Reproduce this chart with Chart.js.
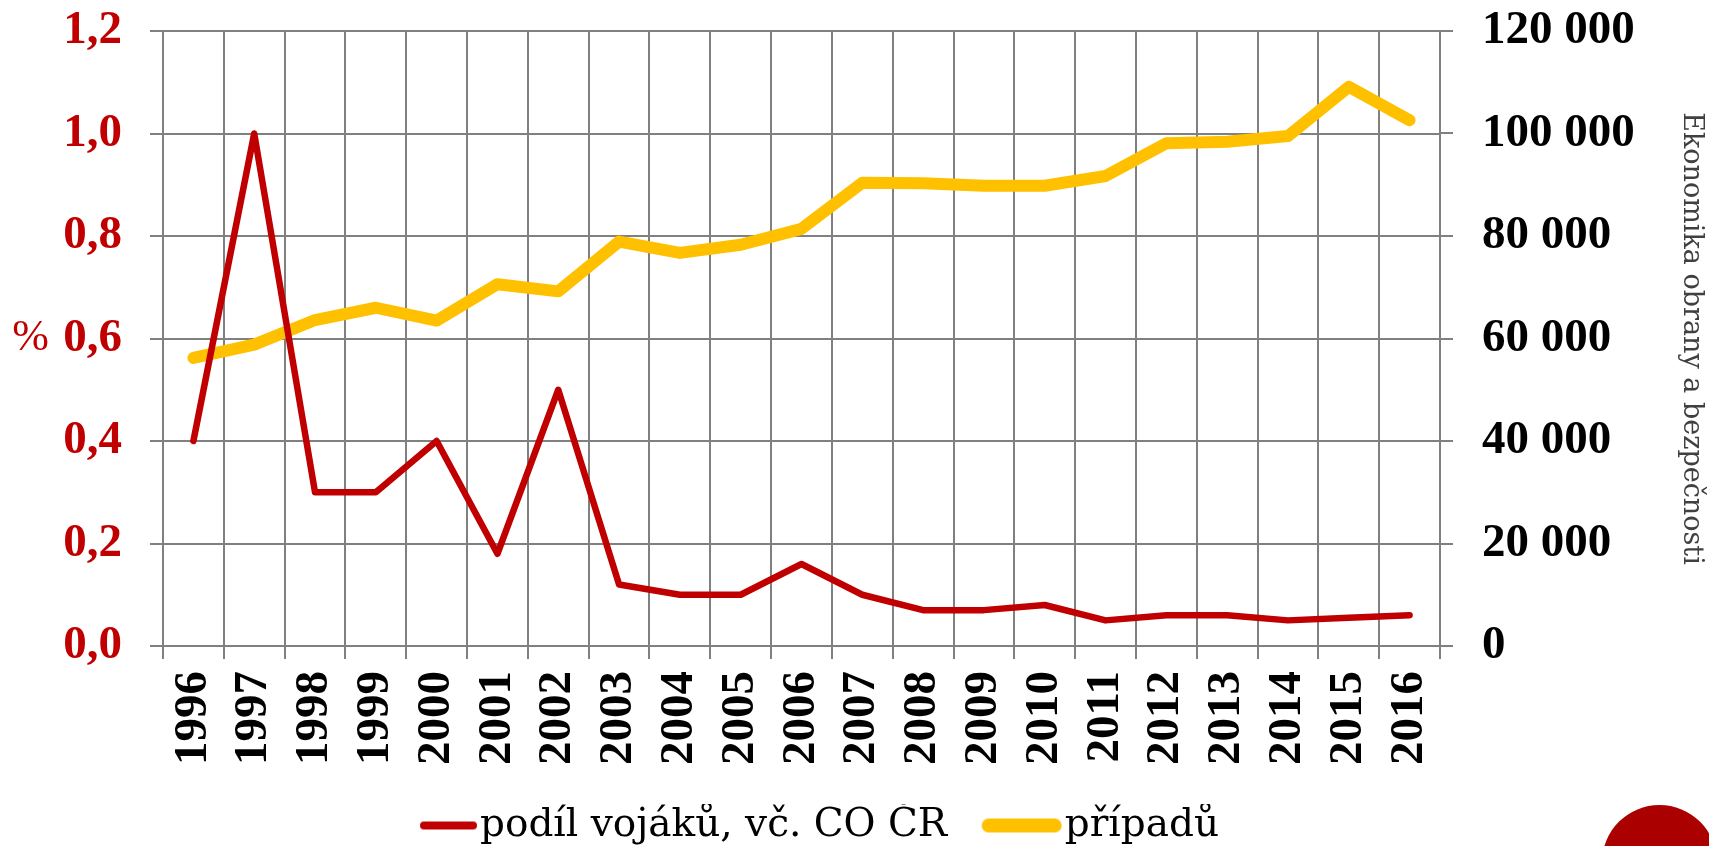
<!DOCTYPE html>
<html>
<head>
<meta charset="utf-8">
<script src="https://cdn.jsdelivr.net/npm/chart.js@4/dist/chart.umd.min.js"></script>
<style>
  html, body { margin: 0; padding: 0; background: #fff; }
  #wrap { position: relative; width: 1709px; height: 846px; overflow: hidden; }
  #dot { position: absolute; left: 1602px; top: 805px; width: 115px; height: 115px; border-radius: 50%; background: #ab0000; }
</style>
</head>
<body>
<div id="wrap">
  <canvas id="chart" width="1709" height="846"></canvas>
  <div id="dot"></div>
</div>
<script>
// years on the x axis
const years = ['1996', '1997', '1998', '1999', '2000', '2001', '2002', '2003', '2004', '2005', '2006',
  '2007', '2008', '2009', '2010', '2011', '2012', '2013', '2014', '2015', '2016'];

// share of soldiers in %, left axis
const soldierShare = [0.40, 1.00, 0.30, 0.30, 0.40, 0.18, 0.50, 0.12, 0.10, 0.10, 0.16,
  0.10, 0.07, 0.07, 0.08, 0.05, 0.06, 0.06, 0.05, 0.055, 0.06];

// number of cases, right axis
const cases = [56200, 58800, 63600, 66000, 63500, 70600, 69200, 78900, 76700, 78300, 81400,
  90400, 90300, 89800, 89800, 91700, 98100, 98400, 99500, 109100, 102600];

const seriesNames = ['podíl vojáků, vč. CO ČR', 'případů'];
const rightTitle = 'Ekonomika obrany a bezpečnosti';

const RED = '#C00000';
const YELLOW = '#FFC000';
const GRID = '#808080';
const xTickFont = { family: '"Liberation Serif", serif', size: 47, weight: 'bold' };
// tiny line height so the tick labels do not push the plot area down
const yTickFont = { family: '"Liberation Serif", serif', size: 47, weight: 'bold', lineHeight: '2px' };
const LEGEND_SIZE = 39;
const BOX_W = 96;

// legend swatch: a thick line of given length that ends just before the label text
function legendLine(color, width, length) {
  const c = document.createElement('canvas');
  c.width = BOX_W + LEGEND_SIZE;
  c.height = 18;
  const g = c.getContext('2d');
  g.strokeStyle = color;
  g.lineWidth = width;
  g.lineCap = 'round';
  g.beginPath();
  g.moveTo(c.width - 3 - length + width / 2, 9);
  g.lineTo(c.width - 3 - width / 2, 9);
  g.stroke();
  return c;
}
const swatches = [legendLine(RED, 8, 57), legendLine(YELLOW, 14, 80)];

// "%" unit written next to the 0,6 tick of the left axis
const percentMark = {
  id: 'percentMark',
  afterDraw(chart) {
    const y = chart.scales.y.getPixelForValue(0.6);
    const ctx = chart.ctx;
    ctx.save();
    ctx.font = '44px "Liberation Serif"';
    ctx.fillStyle = RED;
    ctx.textAlign = 'right';
    ctx.textBaseline = 'middle';
    ctx.fillText('%', 49, y);
    ctx.restore();
  }
};

new Chart(document.getElementById('chart'), {
  type: 'line',
  data: {
    labels: years,
    datasets: [{
      label: seriesNames[0],
      data: soldierShare,
      yAxisID: 'y',
      borderColor: RED,
      backgroundColor: RED,
      borderWidth: 6.5,
      borderCapStyle: 'round',
      borderJoinStyle: 'round',
      pointRadius: 0,
      tension: 0
    }, {
      label: seriesNames[1],
      data: cases,
      yAxisID: 'y1',
      borderColor: YELLOW,
      backgroundColor: YELLOW,
      borderWidth: 12,
      borderCapStyle: 'round',
      borderJoinStyle: 'round',
      pointRadius: 0,
      tension: 0
    }]
  },
  options: {
    responsive: false,
    animation: false,
    devicePixelRatio: 1,
    layout: { padding: { top: 31, left: 0, right: 0, bottom: -9 } },
    scales: {
      x: {
        offset: true,
        grid: { offset: true, color: GRID, lineWidth: 2, tickLength: 13 },
        border: { color: GRID, width: 2 },
        ticks: { autoSkip: false, minRotation: 90, maxRotation: 90, padding: 12, color: '#000', font: xTickFont },
        afterFit(scale) { scale.height = 158; }
      },
      y: {
        position: 'left',
        min: 0,
        max: 1.2,
        grid: { color: GRID, lineWidth: 2, tickLength: 13 },
        border: { color: GRID, width: 2 },
        ticks: {
          stepSize: 0.2,
          padding: 28,
          color: RED,
          font: yTickFont,
          callback: v => v.toFixed(1).replace('.', ',')
        },
        afterFit(scale) { scale.width = 163; }
      },
      y1: {
        position: 'right',
        min: 0,
        max: 120000,
        grid: { drawOnChartArea: false, color: GRID, lineWidth: 2, tickLength: 13 },
        border: { color: GRID, width: 2 },
        ticks: {
          stepSize: 20000,
          padding: 29,
          color: '#000',
          font: yTickFont,
          callback: v => String(v).replace(/\B(?=(\d{3})+(?!\d))/g, ' ')
        },
        title: {
          display: true,
          text: rightTitle,
          color: '#404040',
          font: { family: '"DejaVu Serif", serif', size: 27 },
          padding: { top: 2, bottom: 0 }
        },
        afterFit(scale) { scale.width = 269; }
      }
    },
    plugins: {
      tooltip: { enabled: false },
      legend: {
        position: 'bottom',
        fullSize: false,
        labels: {
          usePointStyle: true,
          pointStyleWidth: BOX_W,
          padding: 2,
          color: '#000',
          font: { family: '"DejaVu Serif", serif', size: LEGEND_SIZE },
          generateLabels(chart) {
            const items = Chart.defaults.plugins.legend.labels.generateLabels(chart);
            items.forEach((it, i) => { it.pointStyle = swatches[i]; });
            // en space after the last label keeps the row centred on the swatch-to-text span
            items[items.length - 1].text += '\u2002';
            return items;
          }
        }
      }
    }
  },
  plugins: [percentMark]
});
</script>
</body>
</html>
